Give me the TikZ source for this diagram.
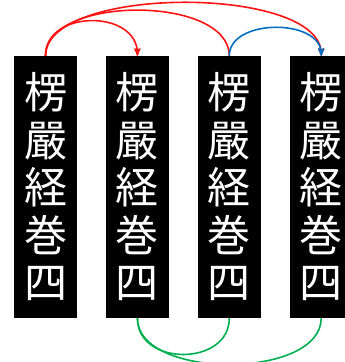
\documentclass[tikz,border=0pt]{standalone}
\usepackage{fontspec}
\newfontfamily\jpfont{Noto Sans CJK JP}
\usetikzlibrary{arrows,positioning}
\definecolor{arcred}{RGB}{255,20,20}
\definecolor{arcblue}{RGB}{0,112,192}
\definecolor{arcgreen}{RGB}{0,176,80}
\tikzset{>=latex}

\begin{document}
\begin{tikzpicture}[->,>=stealth', x=1pt, y=1pt,
  panel/.style={rectangle, fill=black, text=white,
    minimum width=63pt, minimum height=262pt, inner sep=0pt,
    align=center, font=\jpfont\fontsize{43}{47.5}\selectfont},
  arc/.style={line width=1.6pt, looseness=1}]

 % keep the page the size of the reference
 \useasboundingbox (0,0) rectangle (345,-362);

 % the four panels, left to right
 \node[panel] (P1) at (45.5,-187) {楞\\嚴\\経\\巻\\四};
 \node[panel,
  right=28.5pt of P1] (P2) {楞\\嚴\\経\\巻\\四};
 \node[panel,
  right=28.5pt of P2] (P3) {楞\\嚴\\経\\巻\\四};
 \node[panel,
  right=28.5pt of P3] (P4) {楞\\嚴\\経\\巻\\四};

 % arcs over the top
 \path (P1.north) edge[arc, arcred, out=90, in=90, looseness=1.3] (P2.north)
 (P1.north) edge[arc, arcred, -, out=90, in=90, looseness=0.85] (P3.north)
 (P1.north) edge[arc, arcred, out=90, in=90, looseness=0.66] (P4.north)
 (P3.north) edge[arc, arcblue, out=90, in=90, looseness=1.05] (P4.north);

 % arcs under the bottom
 \path (P2.south) edge[arc, arcgreen, -, out=-90, in=-90, looseness=1.35] (P3.south)
 (P2.south) edge[arc, arcgreen, -, out=-90, in=-90, looseness=0.86] (P4.south);

\end{tikzpicture}
\end{document}
